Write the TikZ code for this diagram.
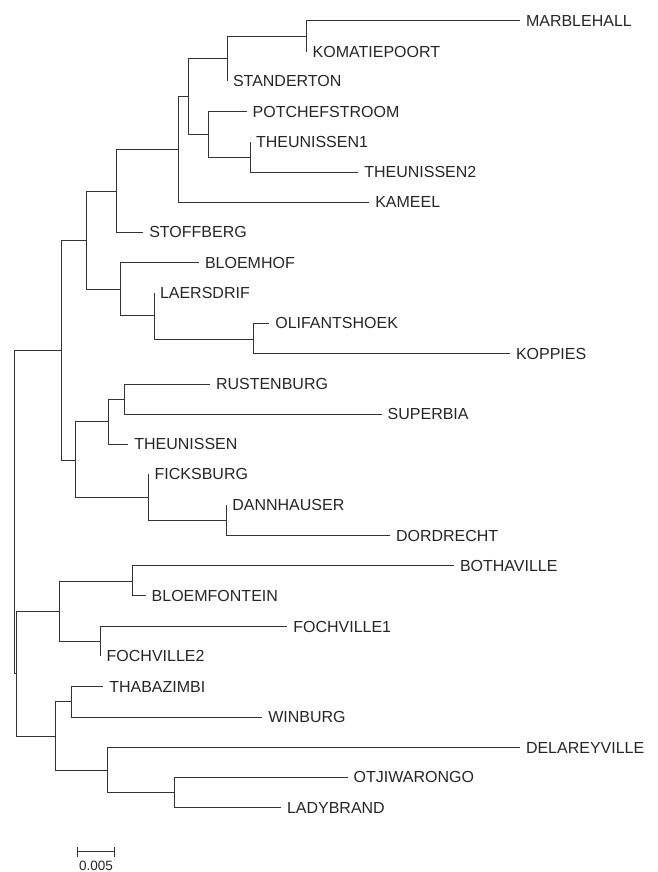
\documentclass[tikz,border=0pt]{standalone}
\usepackage{fontspec}
\setmainfont{Liberation Sans}
\begin{document}
\begin{tikzpicture}[x=1pt,y=-1pt,
  branch/.style={draw=black!80,line width=0.8pt},
  leaf/.style={anchor=west,inner xsep=6pt,inner ysep=0pt,outer sep=0pt,text=black!85,font=\fontsize{16}{19}\selectfont},
  scalelbl/.style={inner sep=0pt,text=black!85,font=\fontsize{13.5}{16}\selectfont}]
\useasboundingbox (0,0) rectangle (657,872);
% internal nodes
\coordinate (root) at (14.7,511);
\coordinate (A) at (61,350);
\coordinate (J) at (86.3,240);
\coordinate (L) at (116.3,191.7);
\coordinate (N) at (178.3,149.7);
\coordinate (O) at (188,96.3);
\coordinate (P) at (227,58.7);
\coordinate (R) at (306.7,36);
\coordinate (Q) at (208.3,134.3);
\coordinate (S) at (250,157);
\coordinate (M) at (120.3,289.3);
\coordinate (T) at (154,315.7);
\coordinate (U) at (253.7,339);
\coordinate (K) at (75.7,460);
\coordinate (V) at (108.7,421.7);
\coordinate (X) at (124.7,399.3);
\coordinate (W) at (148.7,497.7);
\coordinate (Y) at (226.3,520);
\coordinate (B) at (16.7,673);
\coordinate (C) at (59.3,611);
\coordinate (E) at (132.7,581);
\coordinate (F) at (100.7,641);
\coordinate (D) at (55.7,736);
\coordinate (G) at (71.7,701.7);
\coordinate (H) at (107.7,770);
\coordinate (I) at (174.3,792.7);
% leaves
\node[leaf] (marblehall) at (520,20.7) {MARBLEHALL};
\node[leaf] (komatiepoort) at (306.7,51.7) {KOMATIEPOORT};
\node[leaf] (standerton) at (227,81.3) {STANDERTON};
\node[leaf] (potchefstroom) at (246.7,111.7) {POTCHEFSTROOM};
\node[leaf] (theunissenA) at (250,141.7) {THEUNISSEN1};
\node[leaf] (theunissenB) at (358.3,172) {THEUNISSEN2};
\node[leaf] (kameel) at (369.3,202) {KAMEEL};
\node[leaf] (stoffberg) at (143.3,232.3) {STOFFBERG};
\node[leaf] (bloemhof) at (199,262.7) {BLOEMHOF};
\node[leaf] (laersdrif) at (154,293.3) {LAERSDRIF};
\node[leaf] (olifantshoek) at (269.3,323.3) {OLIFANTSHOEK};
\node[leaf] (koppies) at (510,353.7) {KOPPIES};
\node[leaf] (rustenburg) at (210,384) {RUSTENBURG};
\node[leaf] (superbia) at (381.7,414.3) {SUPERBIA};
\node[leaf] (theunissen) at (128.3,444.3) {THEUNISSEN};
\node[leaf] (ficksburg) at (148.7,474.3) {FICKSBURG};
\node[leaf] (dannhauser) at (226.3,505) {DANNHAUSER};
\node[leaf] (dordrecht) at (390,535.7) {DORDRECHT};
\node[leaf] (bothaville) at (454,565.7) {BOTHAVILLE};
\node[leaf] (bloemfontein) at (145.7,595.7) {BLOEMFONTEIN};
\node[leaf] (fochvilleA) at (287.3,626.5) {FOCHVILLE1};
\node[leaf] (fochvilleB) at (100.7,656.3) {FOCHVILLE2};
\node[leaf] (thabazimbi) at (103.3,686.7) {THABAZIMBI};
\node[leaf] (winburg) at (262.3,717.3) {WINBURG};
\node[leaf] (delareyville) at (520,747.5) {DELAREYVILLE};
\node[leaf] (otjiwarongo) at (347.7,777.3) {OTJIWARONGO};
\node[leaf] (ladybrand) at (281,807.7) {LADYBRAND};
% branches
\draw[branch] (root) |- (A);
\draw[branch] (root) |- (B);
\draw[branch] (A) |- (J);
\draw[branch] (A) |- (K);
\draw[branch] (J) |- (L);
\draw[branch] (J) |- (M);
\draw[branch] (L) |- (N);
\draw[branch] (L) |- (stoffberg.west);
\draw[branch] (N) |- (O);
\draw[branch] (N) |- (kameel.west);
\draw[branch] (O) |- (P);
\draw[branch] (O) |- (Q);
\draw[branch] (P) |- (R);
\draw[branch] (P) |- (standerton.west);
\draw[branch] (R) |- (marblehall.west);
\draw[branch] (R) |- (komatiepoort.west);
\draw[branch] (Q) |- (potchefstroom.west);
\draw[branch] (Q) |- (S);
\draw[branch] (S) |- (theunissenA.west);
\draw[branch] (S) |- (theunissenB.west);
\draw[branch] (M) |- (bloemhof.west);
\draw[branch] (M) |- (T);
\draw[branch] (T) |- (laersdrif.west);
\draw[branch] (T) |- (U);
\draw[branch] (U) |- (olifantshoek.west);
\draw[branch] (U) |- (koppies.west);
\draw[branch] (K) |- (V);
\draw[branch] (K) |- (W);
\draw[branch] (V) |- (X);
\draw[branch] (V) |- (theunissen.west);
\draw[branch] (X) |- (rustenburg.west);
\draw[branch] (X) |- (superbia.west);
\draw[branch] (W) |- (ficksburg.west);
\draw[branch] (W) |- (Y);
\draw[branch] (Y) |- (dannhauser.west);
\draw[branch] (Y) |- (dordrecht.west);
\draw[branch] (B) |- (C);
\draw[branch] (B) |- (D);
\draw[branch] (C) |- (E);
\draw[branch] (C) |- (F);
\draw[branch] (E) |- (bothaville.west);
\draw[branch] (E) |- (bloemfontein.west);
\draw[branch] (F) |- (fochvilleA.west);
\draw[branch] (F) |- (fochvilleB.west);
\draw[branch] (D) |- (G);
\draw[branch] (D) |- (H);
\draw[branch] (G) |- (thabazimbi.west);
\draw[branch] (G) |- (winburg.west);
\draw[branch] (H) |- (delareyville.west);
\draw[branch] (H) |- (I);
\draw[branch] (I) |- (otjiwarongo.west);
\draw[branch] (I) |- (ladybrand.west);
% scale bar
\coordinate (sbl) at (77.3,851.7);
\coordinate (sbr) at (114.3,851.7);
\draw[branch] (sbl) -- (sbr);
\draw[branch] ([yshift=-5.5pt]sbl) -- ([yshift=5pt]sbl);
\draw[branch] ([yshift=-5.5pt]sbr) -- ([yshift=5pt]sbr);
\node[scalelbl] (scalebar) at (96,865.5) {0.005};
\end{tikzpicture}
\end{document}
